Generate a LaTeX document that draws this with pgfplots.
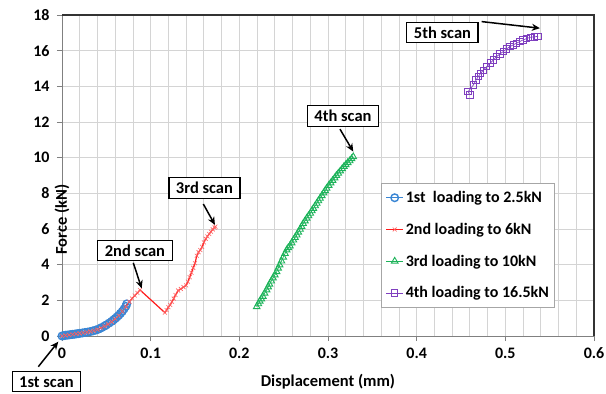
\documentclass[border=0pt]{standalone}
\usepackage{fontspec}
\setmainfont{Carlito}
\usepackage{pgfplots}
\pgfplotsset{compat=1.18}
\usetikzlibrary{arrows.meta}
\definecolor{sblue}{HTML}{3A86D4}
\definecolor{sred}{HTML}{FF1A1A}
\definecolor{sgreen}{HTML}{1DB35A}
\definecolor{spurple}{HTML}{7F3FBF}
\newcommand{\cf}{\fontsize{16.5bp}{19bp}\selectfont\bfseries}
\newcommand{\lf}{\fontsize{16bp}{18bp}\selectfont\bfseries}
\newcommand{\tf}{\fontsize{16bp}{18bp}\selectfont\bfseries}
\begin{document}
\begin{tikzpicture}
\useasboundingbox (0,0) rectangle (606bp,394bp);
\clip (0,0) rectangle (606bp,394bp);
\begin{axis}[
  at={(62bp,58bp)}, anchor=south west,
  scale only axis, width=532bp, height=321bp,
  xmin=0, xmax=0.6, ymin=0, ymax=18,
  clip=false,
  xtick={0,0.1,0.2,0.3,0.4,0.5,0.6},
  xticklabels={0,0.1,0.2,0.3,0.4,0.5,0.6},
  ytick={0,2,4,6,8,10,12,14,16,18},
  minor x tick num=4,
  xmajorgrids, xminorgrids, ymajorgrids,
  major grid style={draw=black!17, line width=0.8bp},
  minor grid style={draw=black!17, line width=0.8bp},
  axis line style={draw=black!50, line width=0.9bp},
  xtick pos=bottom, ytick pos=left,
  tick align=outside, major tick length=5bp, minor tick length=0bp,
  tick style={draw=black!50, line width=0.9bp},
  ticklabel style={font=\tf},
  yticklabel style={xshift=-4bp},
  xticklabel style={yshift=-3bp},
  /pgf/number format/assume math mode=true,
  xlabel={Displacement (mm)}, ylabel={Force (kN)},
  label style={font=\cf},
  xlabel style={at={(axis description cs:0.5,0)}, anchor=center, yshift=-46bp},
  ylabel style={at={(axis description cs:0,0.5)}, anchor=center, xshift=-44bp},
  legend cell align=left,
  legend style={at={(axis cs:0.36,8.58)}, anchor=north west, draw=black!35,
    line width=0.8bp, font=\lf, row sep=15bp, inner xsep=4bp, inner ysep=6bp},
]
\addplot[color=sblue, line width=0.8bp, mark=o, mark size=3.8bp, mark options={line width=1.4bp}] coordinates {
(0,0)(0.002,0.02)(0.004,0.04)(0.006,0.05)(0.008,0.06)(0.010,0.08)(0.012,0.09)(0.014,0.10)
(0.016,0.12)(0.018,0.13)(0.020,0.15)(0.023,0.17)(0.026,0.20)(0.029,0.22)(0.032,0.25)
(0.035,0.29)(0.038,0.33)(0.041,0.38)(0.043,0.43)(0.045,0.48)(0.048,0.56)(0.050,0.62)
(0.053,0.72)(0.056,0.82)(0.058,0.90)(0.060,0.98)(0.062,1.07)(0.064,1.16)(0.066,1.27)
(0.068,1.38)(0.070,1.52)(0.072,1.66)(0.073,1.80)
};
\addlegendentry{1st\ \ loading to 2.5kN}
\addplot[color=sred, line width=1.2bp, mark=x, mark size=2.8bp, mark options={draw=sred!70, line width=0.6bp}] coordinates {
(0,0)(0.004,0.03)(0.008,0.06)(0.012,0.09)(0.016,0.12)(0.020,0.15)(0.024,0.18)(0.028,0.21)
(0.032,0.25)(0.036,0.30)(0.040,0.36)(0.044,0.45)(0.048,0.55)(0.052,0.66)(0.056,0.80)
(0.060,0.96)(0.064,1.15)(0.068,1.38)(0.072,1.64)(0.076,1.92)(0.079,2.10)(0.082,2.27)
(0.085,2.42)(0.088,2.58)(0.116,1.31)(0.118,1.45)(0.120,1.62)(0.122,1.74)(0.124,1.92)
(0.126,2.10)(0.128,2.30)(0.131,2.55)(0.134,2.64)(0.137,2.74)(0.140,2.84)(0.142,3.05)
(0.144,3.30)(0.146,3.55)(0.148,3.82)(0.150,4.08)(0.152,4.50)(0.154,4.70)(0.156,4.82)
(0.158,5.00)(0.160,5.25)(0.162,5.45)(0.164,5.58)(0.166,5.72)(0.168,5.85)(0.170,5.98)
(0.172,6.08)(0.173,6.13)
};
\addlegendentry{2nd loading to 6kN}
\addplot[color=sgreen, line width=0.7bp, mark=triangle, mark size=3.8bp, mark options={line width=0.9bp}] coordinates {
(0.2196,1.64)(0.2215,1.80)(0.2230,1.95)(0.2248,2.08)(0.2265,2.22)(0.2285,2.40)(0.2308,2.58)
(0.2325,2.75)(0.2340,2.90)(0.2360,3.08)(0.2380,3.25)(0.2400,3.42)(0.2421,3.60)(0.2438,3.80)
(0.2455,3.98)(0.2475,4.20)(0.2495,4.42)(0.2515,4.62)(0.2534,4.82)(0.2552,4.95)(0.2570,5.05)
(0.2590,5.22)(0.2610,5.38)(0.2628,5.52)(0.2647,5.66)(0.2665,5.82)(0.2685,5.98)(0.2702,6.14)
(0.2720,6.30)(0.2740,6.45)(0.2760,6.60)(0.2780,6.74)(0.2800,6.88)(0.2818,7.02)(0.2835,7.15)
(0.2855,7.30)(0.2873,7.44)(0.2892,7.58)(0.2910,7.72)(0.2930,7.87)(0.2950,8.02)(0.2968,8.15)
(0.2985,8.28)(0.3008,8.44)(0.3030,8.58)(0.3052,8.72)(0.3075,8.86)(0.3095,9.00)(0.3116,9.12)
(0.3138,9.25)(0.3160,9.38)(0.3180,9.50)(0.3200,9.60)(0.3222,9.72)(0.3245,9.82)(0.3265,9.94)
(0.3285,10.05)
};
\addlegendentry{3rd loading to 10kN}
\addplot[color=spurple, line width=0.7bp, mark=square, mark size=3.2bp, mark options={line width=0.9bp}] coordinates {
(0.4600,13.52)(0.4580,13.70)(0.4640,14.08)(0.4670,14.35)(0.4695,14.55)(0.4720,14.72)
(0.4750,14.90)(0.4790,15.10)(0.4830,15.30)(0.4865,15.48)(0.4900,15.66)(0.4940,15.82)
(0.4977,15.95)(0.5015,16.10)(0.5050,16.22)(0.5090,16.33)(0.5128,16.42)(0.5165,16.52)
(0.5200,16.60)(0.5240,16.68)(0.5280,16.75)(0.5330,16.78)(0.5370,16.80)
};
\addlegendentry{4th loading to 16.5kN}
\draw[black!80, line width=1.2bp] (rel axis cs:0,1) -- (rel axis cs:1,1) -- (rel axis cs:1,0);
% annotations
\tikzset{ann/.style={draw=black, line width=1.1bp, fill=white, font=\cf, inner xsep=7bp, inner ysep=4.5bp},
         arr/.style={-{Stealth[length=8bp,width=7bp]}, line width=1.5bp, black}}
\draw[arr] (axis cs:0.4733,17.63) -- (axis cs:0.539,17.26);
\node[ann] at (axis cs:0.4291,17.02) {5th scan};
\draw[arr] (axis cs:0.3135,11.6) -- (axis cs:0.3285,10.34);
\node[ann] at (axis cs:0.3169,12.34) {4th scan};
\draw[arr] (axis cs:0.1594,7.4) -- (axis cs:0.1725,6.23);
\node[ann] at (axis cs:0.1607,8.30) {3rd scan};
\draw[arr] (axis cs:0.0804,4.1) -- (axis cs:0.0899,2.67);
\node[ann] at (axis cs:0.0823,4.80) {2nd scan};
\draw[arr] (axis cs:-0.0267,-1.72) -- (axis cs:-0.0042,-0.32);
\node[ann, anchor=north] at (axis cs:-0.0175,-1.98) {1st scan};
\end{axis}
\end{tikzpicture}
\end{document}
